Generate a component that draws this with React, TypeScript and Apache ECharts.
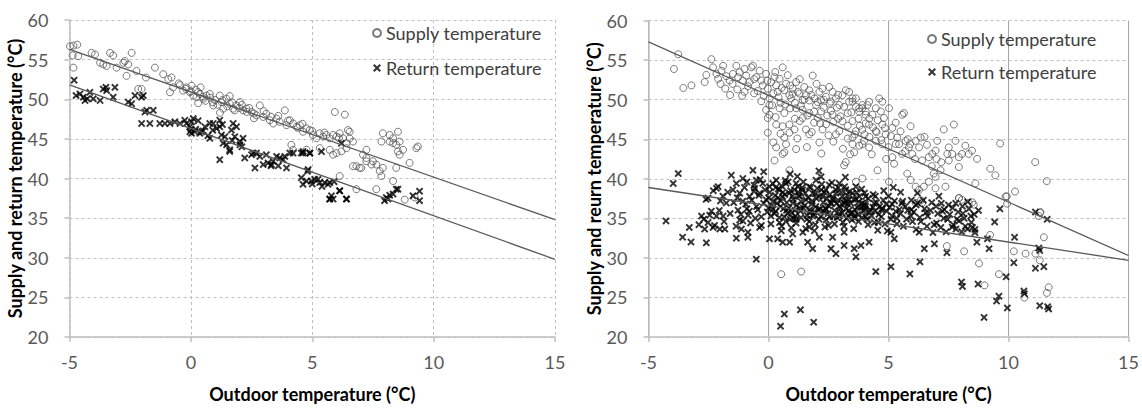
import React, { useEffect, useRef } from "react";
import * as echarts from "echarts";

// ---- axis ticks ----
const xTickMin = -5;
const xTickMax = 15;
const xTickStep = 5;
const yTickMin = 20;
const yTickMax = 60;
const yTickStep = 5;

const seriesNames = ["Supply temperature", "Return temperature"];
const xTitle = "Outdoor temperature (°C)";
const yTitles = ["Supply and return temperature (°C)", "Supply and reurn temperature (°C)"];

// ---- left panel data ----
const leftSupply: number[][] = [
  [-4.98, 56.68], [-4.84, 56.77], [-4.68, 56.89], [-4.87, 55.52], [-4.64, 55.44], [-4.84, 53.99],
  [-4.09, 55.85], [-3.95, 55.65], [-3.74, 54.61], [-3.61, 54.4], [-3.47, 54.2], [-3.33, 55.85],
  [-3.2, 55.52], [-3.06, 53.99], [-2.78, 54.61], [-2.72, 54.82], [-2.58, 54.4], [-2.44, 55.85],
  [-2.65, 52.95], [-2.24, 53.57], [-2.17, 51.29], [-2.03, 51.29], [-1.85, 52.74], [-1.48, 53.99],
  [-1.14, 53.16], [-0.93, 52.54], [-0.8, 52.74], [-0.73, 51.5], [-0.86, 50.88], [-0.45, 51.79],
  [-0.32, 51.09], [-0.18, 51.5], [-0.04, 50.88], [0.03, 51.71], [0.1, 50.46], [0.23, 50.26],
  [0.37, 50.67], [0.51, 50.05], [0.64, 50.46], [0.78, 50.67], [0.92, 49.22], [1.19, 50.46],
  [1.26, 49.64], [1.33, 48.81], [1.47, 50.05], [1.6, 49.43], [1.74, 48.81], [1.88, 49.22],
  [2.02, 49.64], [2.15, 48.6], [2.29, 48.81], [2.5, 48.39], [2.7, 47.98], [2.84, 49.22],
  [2.98, 47.77], [3.11, 48.18], [3.25, 47.35], [3.39, 46.94], [3.53, 47.56], [3.66, 47.15],
  [3.87, 48.6], [3.94, 46.73], [4.08, 47.35], [4.21, 46.94], [4.35, 46.53], [4.49, 46.73],
  [4.62, 45.9], [4.76, 46.32], [4.9, 46.11], [5.03, 45.49], [5.17, 45.07], [5.31, 45.7],
  [5.45, 45.28], [5.58, 45.49], [5.72, 45.07], [5.86, 45.49], [6.0, 45.28], [6.13, 45.7],
  [6.27, 45.07], [6.41, 44.45], [5.93, 48.39], [6.34, 48.06], [6.47, 46.11], [6.54, 45.9],
  [4.14, 44.25], [4.21, 43.62], [4.76, 43.62], [5.31, 43.83], [5.72, 43.62], [5.86, 43.0],
  [6.0, 43.21], [6.2, 43.42], [6.41, 43.83], [6.68, 41.55], [6.95, 41.34], [7.09, 43.0],
  [7.23, 42.59], [7.5, 42.17], [7.64, 41.76], [7.91, 41.34], [7.91, 45.7], [8.19, 44.66],
  [8.33, 44.45], [8.46, 44.25], [8.46, 41.34], [8.33, 39.68], [7.64, 38.65], [6.82, 38.65],
  [6.13, 40.31], [8.53, 45.9], [8.6, 43.0], [6.54, 45.07], [6.68, 44.66], [7.23, 43.62],
  [6.82, 41.55], [7.02, 41.34], [7.23, 42.17], [7.44, 41.76], [7.78, 40.93], [7.85, 40.31],
  [8.19, 45.49], [8.33, 45.07], [8.6, 44.66], [7.85, 44.66], [8.53, 43.42], [8.74, 43.62],
  [9.01, 41.97], [9.29, 43.83], [9.35, 44.04], [8.81, 37.33], [9.22, 37.6],
  [-0.2, 51.3], [0.0, 51.0], [0.2, 51.2], [0.3, 50.9], [0.5, 50.3], [0.6, 49.8], [0.8, 50.2],
  [0.9, 49.6], [1.0, 49.9], [1.1, 49.3], [1.3, 49.9], [1.5, 49.1], [1.7, 49.6], [1.8, 48.6],
  [2.0, 48.9], [2.1, 49.3], [2.3, 48.4], [2.4, 48.9], [2.6, 48.2], [3.0, 48.5], [3.3, 47.8],
  [3.6, 47.9], [4.0, 47.3], [4.4, 46.4], [4.6, 46.9], [5.0, 46.0], [5.5, 45.8], [6.1, 45.1],
  [0.4, 51.5], [1.6, 50.4], [-0.5, 52.0], [0.3, 49.5], [1.2, 48.3], [2.6, 47.6],
];

const leftReturn: number[][] = [
  [-4.81, 52.41], [-4.73, 50.46], [-4.57, 50.67], [-4.43, 50.26], [-4.36, 49.84], [-4.27, 50.05],
  [-4.16, 50.88], [-4.02, 50.05], [-3.74, 49.84], [-3.61, 51.29], [-3.5, 51.5], [-3.47, 51.09],
  [-3.2, 50.26], [-3.13, 51.5], [-2.58, 49.64], [-2.44, 49.43], [-2.3, 50.46], [-2.03, 50.26],
  [-1.96, 50.46], [-1.89, 48.39], [-1.82, 48.6], [-1.55, 48.6], [-2.03, 46.94], [-1.69, 46.94],
  [-1.28, 46.94], [-1.07, 46.94], [-0.86, 46.94], [-0.66, 47.15], [-0.45, 46.94], [-0.25, 47.35],
  [-0.18, 46.94], [-0.04, 46.53], [0.03, 47.15], [0.1, 47.56], [-0.04, 45.9], [0.03, 45.7],
  [0.16, 45.9], [0.37, 45.7], [0.44, 45.9], [0.58, 46.53], [0.78, 46.94], [0.78, 45.07],
  [0.92, 46.94], [1.06, 46.32], [1.19, 47.35], [1.19, 46.53], [1.26, 45.49], [1.4, 45.28],
  [1.19, 42.38], [1.33, 44.45], [1.47, 44.25], [1.6, 43.62], [1.6, 43.42], [1.67, 46.11],
  [1.74, 46.94], [1.81, 45.28], [1.88, 46.53], [2.02, 44.66], [2.02, 44.25], [2.15, 45.07],
  [2.22, 42.59], [2.5, 43.0], [2.57, 43.21], [2.64, 41.34], [2.7, 43.21], [2.84, 42.79],
  [2.98, 41.76], [3.11, 43.0], [3.18, 41.97], [3.32, 41.76], [3.39, 42.17], [3.53, 42.79],
  [3.66, 42.59], [3.8, 42.38], [3.87, 42.79], [3.94, 41.34], [4.08, 43.21], [4.21, 43.21],
  [4.55, 43.21], [4.62, 43.21], [4.9, 43.21], [4.55, 40.1], [4.62, 39.27], [4.76, 39.68],
  [4.83, 41.13], [4.97, 39.68], [5.1, 39.89], [5.24, 39.89], [5.31, 39.48], [5.51, 39.48],
  [5.72, 37.4], [5.79, 37.82], [5.86, 37.4], [5.65, 39.27], [6.13, 38.44], [6.41, 37.4],
  [7.98, 37.2], [8.12, 37.4], [8.33, 38.03], [8.53, 38.65], [4.62, 43.42], [4.9, 43.2],
  [5.38, 43.4], [6.2, 44.45], [5.72, 39.48], [6.13, 38.44], [6.41, 37.4], [8.05, 37.6],
  [8.19, 37.9], [8.46, 38.65], [9.15, 37.82], [9.42, 38.4], [9.42, 37.2], [5.72, 37.4],
  [0.2, 46.2], [0.5, 46.0], [0.9, 46.1], [1.3, 46.8], [0.0, 46.2], [0.3, 47.3], [0.7, 45.4],
  [1.7, 44.8], [2.1, 44.0], [3.6, 41.6], [3.3, 41.6], [5.0, 39.3], [5.4, 39.0], [4.8, 40.9],
  [5.9, 39.6],
];

// ---- right panel data ----
const rightSupply: number[][] = [
  [-3.94, 53.88], [-3.76, 55.74], [-3.55, 51.48], [-3.21, 51.81], [-2.66, 52.23], [-2.59, 53.13],
  [-2.38, 55.12], [-2.31, 54.09], [-2.17, 53.26], [-2.1, 52.64], [-1.96, 53.67], [-1.89, 54.29],
  [-1.76, 52.97], [-1.62, 52.43], [-1.48, 53.26], [-1.34, 54.29], [-1.27, 52.85], [-1.2, 53.47],
  [-1.07, 52.43], [-1.0, 53.88], [-0.93, 53.05], [-0.79, 52.23], [-0.72, 54.09], [-0.65, 54.29],
  [-0.51, 52.85], [-0.37, 53.67], [-0.3, 52.43], [-0.24, 51.81], [-0.1, 53.26], [-0.03, 51.4],
  [0.04, 50.16], [0.11, 52.23], [0.25, 52.85], [0.32, 51.81], [0.38, 50.99], [0.46, 52.64],
  [0.59, 54.09], [0.66, 51.19], [0.73, 52.02], [0.87, 50.57], [0.94, 50.16], [1.01, 51.4],
  [1.15, 52.23], [1.29, 50.78], [1.42, 49.95], [1.49, 51.61], [1.56, 50.57], [1.7, 51.19],
  [1.84, 53.05], [1.91, 50.16], [1.98, 49.33], [2.12, 50.99], [2.19, 49.95], [2.25, 51.4],
  [2.39, 50.37], [2.53, 51.61], [2.6, 49.75], [2.67, 50.99], [2.81, 50.16], [2.95, 49.33],
  [3.08, 50.57], [3.22, 51.19], [3.36, 49.75], [3.5, 50.16], [3.64, 49.13], [3.78, 48.51],
  [3.91, 48.92], [4.05, 48.1], [4.12, 49.33], [0.04, 48.1], [0.32, 46.86], [0.59, 46.65],
  [0.87, 46.86], [0.66, 45.21], [0.73, 44.38], [0.87, 45.83], [1.08, 46.24], [1.15, 43.76],
  [1.42, 47.69], [1.56, 46.24], [1.7, 45.62], [2.05, 47.69], [2.12, 44.59], [2.25, 46.24],
  [2.67, 48.1], [2.81, 45.62], [2.95, 46.03], [3.08, 47.27], [3.22, 42.11], [3.15, 41.7],
  [3.5, 44.38], [3.57, 43.35], [3.64, 46.03], [3.78, 44.18], [3.98, 44.8], [0.59, 43.14],
  [0.66, 43.35], [0.87, 41.08], [-0.03, 45.83], [0.25, 42.32], [0.32, 43.97], [-0.03, 47.69],
  [0.66, 48.31], [1.15, 48.92], [1.7, 48.31], [2.19, 48.51], [0.04, 49.33], [0.46, 48.92],
  [1.42, 48.72], [3.36, 50.99], [3.5, 49.75], [3.64, 50.16], [3.78, 48.92], [3.91, 49.33],
  [4.05, 48.51], [4.19, 49.75], [4.33, 48.1], [4.47, 48.92], [4.61, 50.16], [4.74, 49.75],
  [4.68, 48.51], [4.81, 47.69], [5.02, 48.92], [4.19, 46.86], [4.47, 46.03], [4.74, 46.86],
  [4.88, 45.62], [5.16, 46.44], [5.36, 45.21], [5.57, 48.1], [5.64, 48.31], [5.92, 46.65],
  [3.5, 45.21], [3.91, 44.38], [4.19, 43.97], [4.47, 44.8], [4.74, 44.38], [5.16, 42.73],
  [5.23, 41.91], [5.44, 44.38], [5.57, 43.14], [5.71, 44.8], [5.85, 43.97], [5.99, 43.14],
  [6.13, 44.8], [6.27, 43.97], [6.34, 45.21], [6.4, 42.32], [6.68, 42.73], [6.82, 43.14],
  [6.96, 43.56], [7.03, 44.8], [7.3, 46.24], [7.51, 43.97], [7.65, 43.14], [7.72, 46.86],
  [7.79, 44.8], [7.93, 42.73], [8.06, 43.14], [8.2, 44.18], [8.34, 43.14], [8.48, 43.56],
  [8.69, 42.52], [7.93, 41.49], [7.51, 42.32], [7.45, 43.14], [5.78, 40.66], [5.92, 39.84],
  [6.13, 39.01], [6.27, 38.6], [6.47, 39.01], [6.68, 39.63], [6.89, 40.66], [6.96, 40.25],
  [6.96, 38.8], [7.17, 41.08], [7.37, 39.01], [4.54, 41.08], [5.02, 39.63], [6.13, 36.94],
  [6.4, 36.94], [9.24, 41.28], [9.45, 40.45], [9.65, 44.46], [10.27, 38.39], [9.93, 37.77],
  [11.11, 42.11], [11.59, 39.71], [11.31, 35.71], [7.93, 37.56], [8.06, 37.35], [8.62, 39.42],
  [8.34, 36.94], [8.55, 36.73], [3.91, 40.04], [3.64, 39.63], [9.88, 37.77], [7.94, 37.56],
  [8.49, 37.03], [9.94, 36.86], [11.33, 35.79], [11.26, 35.29], [6.35, 37.27], [11.47, 32.61],
  [7.43, 31.49], [8.15, 30.83], [8.77, 29.3], [9.6, 27.94], [9.0, 26.53], [10.22, 30.83],
  [10.71, 30.54], [11.12, 30.54], [11.3, 29.71], [11.67, 26.29], [11.6, 25.58], [10.66, 24.97],
  [9.23, 32.9], [0.53, 27.94], [1.36, 28.27],
  [0.2, 50.8], [0.5, 49.6], [0.9, 51.8], [1.1, 49.6], [1.3, 52.6], [1.7, 49.9], [2.0, 52.0],
  [2.3, 49.0], [2.6, 48.6], [2.9, 50.6], [3.3, 48.3], [3.5, 47.3], [3.8, 46.7], [4.2, 47.6],
  [4.5, 45.9], [4.0, 45.6], [3.3, 45.1], [2.9, 47.6], [2.4, 46.9], [1.9, 47.1], [1.3, 47.3],
  [0.9, 48.9], [-0.6, 50.8], [-0.3, 49.8], [-1.0, 51.0], [-1.6, 50.6], [-0.1, 48.7], [0.3, 47.8],
  [2.7, 44.7], [3.1, 43.8], [4.3, 43.1], [4.9, 42.5], [5.3, 47.1], [5.8, 45.0], [6.6, 44.3],
  [7.2, 42.1], [2.2, 43.2], [1.6, 44.0],
  [-2.0, 52.0], [-1.8, 51.4], [-1.5, 52.0], [-1.3, 51.3], [-1.1, 50.5], [-0.85, 51.7], [-0.6, 52.6],
  [-0.45, 51.1], [-0.2, 50.5], [-0.05, 52.4], [0.15, 49.3], [0.28, 53.5], [0.42, 50.3], [0.55, 51.5],
  [0.7, 49.4], [0.8, 53.1], [1.0, 50.7], [1.1, 47.6], [1.22, 51.0], [1.35, 49.2], [1.5, 50.0],
  [1.62, 48.0], [1.78, 50.6], [1.9, 48.5], [2.05, 49.7], [2.15, 47.0], [2.3, 50.0], [2.45, 48.0],
  [2.55, 49.5], [2.7, 47.2], [2.85, 49.0], [3.0, 47.9], [3.15, 49.1], [3.3, 46.7], [3.45, 48.4],
  [3.6, 45.6], [3.75, 47.6], [3.9, 46.2], [4.05, 47.0], [4.2, 45.3], [4.35, 46.5], [4.55, 47.4],
  [4.7, 44.9], [4.85, 46.4], [5.0, 44.0], [5.1, 45.4], [5.3, 44.4], [5.5, 46.0], [5.7, 43.5],
  [5.9, 44.4], [6.1, 42.5], [6.5, 45.3], [6.8, 41.6], [7.0, 42.5], [2.5, 45.5], [1.8, 45.9],
  [1.2, 45.1], [0.5, 45.7], [0.2, 44.6], [3.4, 43.1],
];

const rightReturn: number[][] = [
  [-3.97, 39.42], [-3.76, 40.66], [-2.52, 37.56], [-2.17, 38.8], [-2.1, 39.01], [-1.55, 40.45],
  [-1.48, 38.6], [-1.34, 39.42], [-1.2, 38.18], [-1.07, 40.04], [-1.07, 37.15], [-0.79, 37.77],
  [-0.65, 41.07], [-0.58, 38.8], [-0.51, 39.83], [-0.37, 38.18], [-0.24, 39.42], [-0.1, 37.35],
  [0.04, 39.01], [0.32, 39.83], [0.46, 38.6], [0.59, 37.77], [0.73, 39.42], [0.87, 38.18],
  [1.01, 36.94], [1.15, 39.42], [1.29, 37.77], [1.42, 38.6], [1.56, 37.35], [1.7, 39.01],
  [1.84, 38.18], [1.98, 39.83], [2.19, 40.25], [2.25, 37.77], [2.39, 38.6], [2.53, 39.22],
  [2.67, 37.35], [2.81, 38.18], [2.95, 39.42], [3.08, 37.77], [3.22, 38.6], [3.36, 37.35],
  [3.5, 38.18], [3.64, 39.01], [3.78, 37.77], [3.91, 36.94], [4.05, 37.77],
  [-4.27, 34.67], [-3.58, 32.62], [-3.3, 33.85], [-3.23, 32.0], [-2.79, 35.29], [-2.66, 33.64],
  [-2.59, 31.9], [-2.52, 34.46], [-2.38, 35.91], [-2.31, 33.85], [-2.17, 35.29], [-2.03, 33.64],
  [-1.89, 35.29], [-1.82, 33.64], [-1.76, 36.94], [-1.34, 32.49], [-1.27, 36.03], [-1.2, 34.79],
  [-1.13, 33.64], [-1.07, 34.67], [-0.86, 33.23], [-0.86, 32.61], [-0.51, 29.84], [-0.37, 33.85],
  [0.04, 32.41], [0.38, 32.41], [0.46, 34.46], [0.53, 33.43], [0.59, 31.99], [0.88, 31.99],
  [1.01, 33.02], [0.5, 21.37], [0.66, 22.9], [1.33, 23.44], [1.88, 21.87], [1.43, 33.23],
  [1.63, 31.99], [1.84, 31.16], [1.91, 33.43], [2.12, 32.61], [2.67, 32.61], [2.6, 31.16],
  [2.81, 30.54], [3.15, 33.23], [3.15, 31.57], [3.57, 31.16], [3.64, 30.13], [3.85, 31.57],
  [4.19, 31.99], [4.47, 28.27], [1.84, 35.29], [2.4, 36.12], [2.95, 35.29], [3.5, 35.7],
  [4.05, 36.52], [1.15, 34.88], [0.18, 36.12],
  [3.17, 36.94], [3.58, 35.29], [4.0, 36.12], [4.41, 34.46], [4.69, 36.12], [5.1, 34.88],
  [5.1, 33.23], [5.24, 32.41], [5.45, 36.12], [5.59, 37.15], [5.93, 35.29], [6.21, 36.94],
  [6.28, 33.23], [6.49, 31.16], [6.63, 35.29], [6.91, 31.78], [6.98, 36.52], [7.18, 33.85],
  [7.32, 36.12], [7.46, 34.88], [7.67, 36.32], [7.81, 33.64], [7.94, 34.67], [8.08, 36.52],
  [8.29, 33.64], [8.43, 35.29], [8.5, 33.85], [8.57, 35.49], [8.68, 31.99], [9.12, 32.41],
  [9.19, 31.16], [9.42, 34.55], [9.64, 36.2], [5.1, 28.89], [5.89, 27.98], [6.31, 29.51],
  [7.43, 30.66], [8.04, 26.94], [8.08, 26.4], [8.73, 26.69], [8.98, 22.48], [9.5, 24.54],
  [9.6, 25.16], [9.9, 27.61], [9.95, 23.67], [10.25, 32.61], [10.22, 29.39], [10.64, 25.8],
  [10.66, 25.47], [11.12, 35.79], [11.12, 28.69], [11.26, 31.24], [11.3, 23.96], [11.47, 28.89],
  [11.61, 34.88], [11.63, 23.84], [11.67, 23.55], [11.3, 30.95],
  [0.2, 37.2], [0.5, 36.5], [0.8, 35.6], [1.0, 37.8], [1.3, 36.2], [1.6, 35.4], [1.8, 36.8],
  [2.0, 37.5], [2.3, 35.9], [2.5, 36.6], [2.7, 35.2], [3.0, 36.3], [3.2, 37.2], [3.4, 35.6],
  [3.7, 36.4], [3.9, 35.1], [4.2, 35.8], [4.4, 36.9], [0.1, 35.3], [0.6, 38.3], [1.1, 36.0],
  [1.4, 38.9], [1.9, 35.8], [2.2, 38.6], [2.6, 37.0], [2.9, 38.9], [3.3, 36.8], [3.6, 35.0],
  [4.0, 38.2], [-0.5, 36.5], [-0.8, 35.9], [-0.3, 35.2], [0.9, 34.9], [1.7, 34.6], [2.4, 34.8],
  [3.1, 34.5], [4.6, 35.5], [4.9, 36.8], [5.3, 35.9], [5.7, 36.5], [6.0, 34.6], [6.5, 36.2],
  [6.9, 34.2], [7.3, 35.0], [7.8, 36.9], [8.2, 34.0], [8.6, 33.2], [0.3, 38.9], [0.7, 39.8],
  [1.2, 40.3], [-0.2, 40.9], [-0.6, 39.2], [-1.3, 37.6], [-1.7, 38.3], [-2.0, 37.2], [-2.6, 37.4],
  [-0.9, 36.2], [5.0, 37.8], [5.5, 38.3],
  [-1.0, 38.9], [-0.95, 36.8], [-0.9, 39.6], [-0.85, 35.4], [-0.7, 37.3], [-0.6, 38.4], [-0.45, 36.1],
  [-0.4, 37.9], [-0.35, 39.9], [-0.2, 36.9], [-0.15, 38.6], [-0.05, 35.8], [0.0, 37.6],
  [0.05, 38.3], [0.12, 36.6], [0.18, 39.4], [0.25, 35.6], [0.28, 37.9], [0.35, 36.9], [0.4, 38.7],
  [0.45, 35.1], [0.52, 37.2], [0.55, 39.1], [0.62, 36.2], [0.68, 38.0], [0.72, 34.6], [0.76, 37.0],
  [0.82, 39.6], [0.85, 36.3], [0.92, 38.5], [0.97, 35.7],
  [1.03, 37.4], [1.08, 38.6], [1.12, 35.3], [1.18, 36.7], [1.22, 39.0], [1.27, 37.9], [1.33, 35.9],
  [1.37, 37.1], [1.45, 39.6], [1.5, 36.6], [1.53, 38.2], [1.6, 34.9], [1.65, 37.6], [1.72, 36.1],
  [1.76, 38.9], [1.82, 37.2], [1.88, 35.5], [1.93, 38.1], [1.97, 36.5],
  [2.03, 38.8], [2.08, 36.1], [2.12, 37.8], [2.18, 35.2], [2.22, 39.3], [2.28, 37.0], [2.33, 38.3],
  [2.37, 36.3], [2.43, 37.5], [2.48, 35.6], [2.55, 38.0], [2.6, 36.8], [2.64, 39.5], [2.7, 37.6],
  [2.75, 36.0], [2.8, 38.6], [2.86, 35.1], [2.9, 37.3], [2.96, 36.5],
  [3.02, 38.3], [3.07, 35.7], [3.12, 37.0], [3.17, 39.0], [3.23, 36.2], [3.28, 37.9], [3.33, 35.3],
  [3.38, 38.4], [3.43, 36.9], [3.48, 34.8], [3.55, 37.4], [3.6, 36.1], [3.67, 38.3], [3.72, 35.5],
  [3.76, 37.1], [3.83, 36.4], [3.88, 38.7], [3.95, 35.9],
  [4.03, 36.8], [4.1, 34.9], [4.15, 37.5], [4.23, 36.1], [4.3, 35.3], [4.36, 38.0], [4.43, 35.9],
  [4.5, 37.0], [4.57, 34.5], [4.63, 36.5], [4.7, 35.2], [4.78, 37.3], [4.85, 34.3], [4.92, 35.9],
  [5.05, 36.4], [5.15, 35.3], [5.25, 37.2], [5.35, 34.3], [5.5, 35.6], [5.62, 34.0], [5.8, 36.0],
  [5.95, 37.3], [6.05, 35.8], [6.15, 33.6], [6.3, 35.1], [6.45, 37.3], [6.6, 34.0], [6.75, 36.0],
  [6.85, 33.2], [7.05, 35.6], [7.2, 36.9], [7.4, 33.3], [7.55, 35.5], [7.7, 34.2], [7.9, 35.8],
  [8.05, 33.3], [8.15, 35.0], [8.35, 36.2], [8.45, 34.5], [8.6, 33.6], [8.75, 36.0],
  [-2.9, 34.2], [-2.7, 34.9], [-2.45, 35.4], [-2.25, 34.1], [-2.05, 36.0], [-1.85, 34.6], [-1.6, 35.6],
  [-1.45, 37.0], [-1.35, 34.0], [-1.15, 35.5], [-1.9, 37.8], [-2.3, 38.5],
  [0.1, 34.3], [0.3, 35.9], [0.55, 34.0], [0.75, 36.0], [0.95, 33.8], [1.15, 34.4], [1.35, 35.1],
  [1.55, 33.7], [1.75, 35.8], [1.95, 34.2], [2.15, 36.2], [2.35, 33.9], [2.55, 35.2], [2.75, 34.3],
  [2.95, 35.6], [3.15, 34.0], [3.35, 36.0], [3.55, 33.7], [3.75, 34.6], [3.95, 36.6], [4.15, 34.2],
  [4.35, 36.4], [4.55, 33.5], [4.75, 36.2], [4.95, 33.4], [5.15, 36.8], [5.35, 35.0], [5.55, 36.9],
  [5.75, 34.9], [5.95, 36.1], [6.15, 36.7], [6.35, 34.6], [6.55, 35.7], [6.8, 37.0], [7.0, 34.4],
  [7.25, 35.9], [7.5, 36.7], [7.65, 33.9], [7.85, 34.9], [8.1, 35.6], [8.3, 37.1], [-0.3, 34.1],
  [-0.55, 35.0], [-0.75, 34.4], [0.0, 36.3], [0.4, 37.6], [0.65, 35.2], [1.05, 35.0], [1.25, 38.3],
  [1.45, 36.3], [1.7, 33.9], [2.1, 34.9], [2.5, 34.1], [2.85, 36.9], [3.25, 35.0], [3.65, 37.4],
  [4.05, 35.2], [4.45, 37.8], [4.8, 38.5], [5.2, 38.9], [6.2, 38.2], [7.1, 37.8], [0.9, 40.6],
  [2.1, 41.0], [3.2, 40.2],
];

// ---- trend lines (end points) ----
const leftSupplyFit: number[][] = [[-5, 56.3], [15, 34.8]];
const leftReturnFit: number[][] = [[-5, 51.8], [15, 29.8]];
const rightSupplyFit: number[][] = [[-5, 57.3], [15, 30.3]];
const rightReturnFit: number[][] = [[-5, 38.9], [15, 29.7]];

const FONT = "Lato, 'Open Sans', sans-serif";
const CROSS = "path://M0,1.8L1.8,0L5,3.2L8.2,0L10,1.8L6.8,5L10,8.2L8.2,10L5,6.8L1.8,10L0,8.2L3.2,5Z";

function xAxisFor(gridIndex: number, solidV: boolean) {
  return {
    type: "value",
    gridIndex,
    min: xTickMin,
    max: xTickMax,
    interval: xTickStep,
    name: xTitle,
    nameLocation: "middle",
    nameGap: 48,
    nameTextStyle: { fontFamily: FONT, fontSize: 18, fontWeight: "bold", color: "#000" },
    axisLine: { show: true, onZero: false, lineStyle: { color: "#bfbfbf", width: 1.5 } },
    axisTick: { show: true, inside: false, length: 5, lineStyle: { color: "#bfbfbf", width: 1.5 } },
    axisLabel: { margin: 16, fontFamily: FONT, fontSize: 18, color: "#595959" },
    splitLine: {
      show: true,
      lineStyle: solidV
        ? { color: "#a6a6a6", width: 1, type: "solid" }
        : { color: "#bfbfbf", width: 1, type: [3, 3] },
    },
  };
}

function yAxisFor(gridIndex: number, title: string) {
  return {
    type: "value",
    gridIndex,
    min: yTickMin,
    max: yTickMax,
    interval: yTickStep,
    name: title,
    nameLocation: "middle",
    nameGap: 41,
    nameTextStyle: { fontFamily: FONT, fontSize: 18, fontWeight: "bold", color: "#000" },
    axisLine: { show: true, onZero: false, lineStyle: { color: "#bfbfbf", width: 1.5 } },
    axisTick: { show: true, inside: false, length: 5, lineStyle: { color: "#bfbfbf", width: 1.5 } },
    axisLabel: { margin: 21, fontFamily: FONT, fontSize: 18, color: "#595959" },
    splitLine: { show: true, lineStyle: { color: "#bfbfbf", width: 1, type: [3, 3] } },
  };
}

function scatterPair(idx: number, supply: number[][], ret: number[][]) {
  return [
    {
      type: "scatter",
      name: seriesNames[0],
      xAxisIndex: idx,
      yAxisIndex: idx,
      data: supply,
      symbol: "circle",
      symbolSize: 7,
      itemStyle: { color: "rgba(255,255,255,0)", borderColor: "#595959", borderWidth: 1 },
      z: 3,
    },
    {
      type: "scatter",
      name: seriesNames[1],
      xAxisIndex: idx,
      yAxisIndex: idx,
      data: ret,
      symbol: CROSS,
      symbolSize: 7.5,
      itemStyle: { color: "#000" },
      z: 4,
    },
  ];
}

function fitLine(idx: number, d: number[][]) {
  return {
    type: "line",
    xAxisIndex: idx,
    yAxisIndex: idx,
    data: d,
    symbol: "none",
    lineStyle: { color: "#595959", width: 1.3 },
    z: 5,
    silent: true,
  };
}

function legendAt(left: number, top: number, gap: number) {
  return {
    orient: "vertical",
    left,
    top,
    padding: 0,
    itemGap: gap,
    itemWidth: 8,
    itemHeight: 8,
    textStyle: { fontFamily: FONT, fontSize: 18, color: "#404040" },
    data: [
      { name: seriesNames[0], icon: "circle" },
      { name: seriesNames[1], icon: CROSS },
    ],
  };
}

export default function App() {
  const ref = useRef<HTMLDivElement>(null);
  useEffect(() => {
    if (!ref.current) return;
    const chart = echarts.init(ref.current, undefined, { renderer: "svg" });
    chart.setOption({
      animation: false,
      backgroundColor: "#ffffff",
      textStyle: { fontFamily: FONT },
      grid: [
        { left: 69.5, top: 20, width: 485.5, height: 321.7 },
        { left: 648.5, top: 20.6, width: 481.8, height: 322.7 },
      ],
      legend: [legendAt(372, 24, 17), legendAt(927, 30, 15)],
      xAxis: [xAxisFor(0, false), xAxisFor(1, true)],
      yAxis: [yAxisFor(0, yTitles[0]), yAxisFor(1, yTitles[1])],
      series: [
        ...scatterPair(0, leftSupply, leftReturn),
        ...scatterPair(1, rightSupply, rightReturn),
        fitLine(0, leftSupplyFit),
        fitLine(0, leftReturnFit),
        fitLine(1, rightSupplyFit),
        fitLine(1, rightReturnFit),
      ],
    });
    return () => chart.dispose();
  }, []);
  return (
    <div
      ref={ref}
      style={{ position: "fixed", left: 0, top: 0, width: 1142, height: 408, background: "#fff" }}
    />
  );
}
